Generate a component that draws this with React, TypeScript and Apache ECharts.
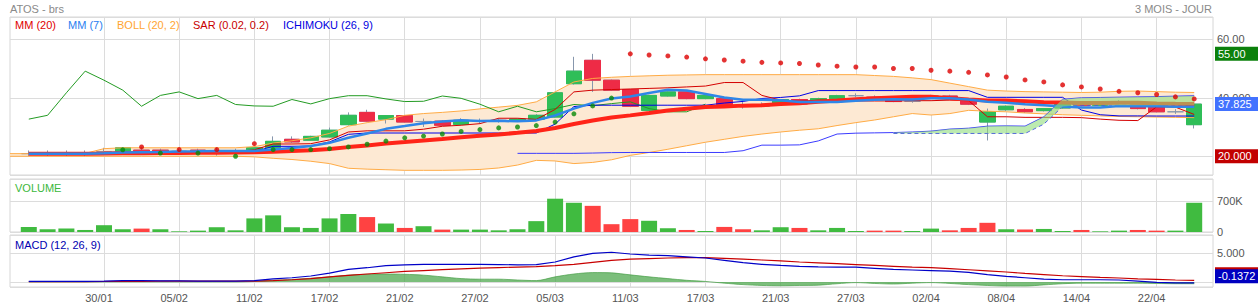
import React, { useEffect, useRef } from 'react';
import * as echarts from 'echarts';

const FONT = '"Liberation Sans", Arial, Helvetica, sans-serif';

// 65 trading-day categories (first and last slots carry no candle)
const dates = [
  '23/01', '24/01', '27/01', '28/01', '29/01', '30/01', '31/01',
  '03/02', '04/02', '05/02', '06/02', '07/02', '10/02', '11/02', '12/02', '13/02', '14/02',
  '17/02', '18/02', '19/02', '20/02', '21/02', '24/02', '25/02', '26/02', '27/02', '28/02',
  '03/03', '04/03', '05/03', '06/03', '07/03', '10/03', '11/03', '12/03', '13/03', '14/03',
  '17/03', '18/03', '19/03', '20/03', '21/03', '24/03', '25/03', '26/03', '27/03', '28/03', '31/03',
  '01/04', '02/04', '03/04', '04/04', '07/04', '08/04', '09/04', '10/04', '11/04',
  '14/04', '15/04', '16/04', '17/04', '22/04', '23/04', '24/04', '25/04',
];

const opens = [null,
  20.9, 20.9, 20.9, 20.9, 21.6, 21.7, 22.1, 22.1, 21.7, 22.1,
  21.8, 21.7, 21.7, 22.9, 25.8, 25.5, 26.6, 30.8, 35.0, 32.7,
  33.9, 31.9, 32.0, 30.9, 32.0, 32.3, 32.0, 32.7, 33.4, 44.8,
  52.8, 46.0, 42.8, 35.7, 40.6, 42.0, 39.7, 39.7, 37.2, 37.1,
  38.2, 39.4, 39.0, 39.7, 40.7, 40.2, 39.5, 38.8, 40.0, 40.6,
  39.0, 31.7, 35.9, 36.0, 35.6, 36.5, 37.7, 37.4, 38.0, 37.6,
  38.0, 35.2, 30.8, null];
const highs = [null,
  22.0, 22.0, 22.0, 22.0, 22.9, 23.0, 23.2, 22.6, 22.6, 22.6,
  22.9, 22.6, 23.1, 26.8, 26.8, 27.0, 29.8, 35.0, 35.9, 34.1,
  34.0, 32.9, 32.3, 33.0, 32.9, 33.0, 33.0, 34.4, 42.0, 54.0,
  55.0, 46.2, 43.0, 41.0, 42.2, 42.1, 41.0, 40.0, 39.0, 38.4,
  39.6, 39.7, 40.0, 41.0, 41.5, 40.8, 39.8, 39.3, 41.0, 41.0,
  39.4, 36.3, 37.4, 36.5, 36.5, 37.9, 38.1, 38.3, 39.2, 38.0,
  38.6, 36.1, 37.9, null];
const lows = [null,
  20.0, 20.0, 20.0, 20.0, 20.4, 21.5, 21.4, 21.4, 21.2, 21.4,
  20.2, 20.6, 21.5, 22.6, 24.6, 25.3, 26.4, 30.5, 31.8, 31.2,
  31.5, 30.0, 30.4, 30.7, 31.2, 31.5, 31.8, 32.5, 33.2, 44.5,
  42.0, 42.3, 36.8, 35.5, 40.4, 39.5, 39.5, 37.5, 36.3, 36.8,
  38.0, 37.6, 38.8, 39.5, 40.2, 39.4, 38.5, 38.3, 39.8, 39.6,
  37.5, 25.4, 35.5, 34.8, 35.3, 36.3, 37.0, 37.2, 37.8, 36.0,
  35.0, 34.5, 29.5, null];
const closes = [null,
  20.9, 20.9, 20.9, 20.9, 21.6, 22.9, 21.6, 21.6, 21.7, 21.6,
  21.8, 21.7, 22.9, 25.1, 24.9, 26.8, 28.9, 34.0, 32.0, 33.9,
  31.7, 31.9, 30.6, 32.3, 32.0, 32.3, 32.7, 34.0, 41.7, 49.1,
  46.0, 42.6, 37.1, 40.8, 42.0, 39.7, 40.8, 37.7, 37.2, 37.1,
  39.4, 37.9, 39.7, 40.7, 40.7, 39.6, 38.7, 38.8, 40.6, 39.8,
  37.8, 35.2, 37.1, 35.2, 36.3, 37.7, 37.3, 38.0, 38.6, 36.3,
  35.2, 35.2, 37.825, null];

// volume in thousands, and colour flag (1 = green, 0 = red)
const volumesK = [null,
  115, 62, 77, 46, 154, 62, 77, 62, 15, 31,
  108, 38, 308, 377, 108, 92, 308, 408, 338, 192,
  92, 131, 54, 54, 54, 38, 62, 246, 754, 662,
  592, 177, 292, 254, 85, 46, 23, 115, 62, 38,
  108, 92, 38, 92, 23, 31, 31, 23, 77, 38,
  92, 208, 62, 54, 69, 23, 46, 15, 31, 46,
  31, 31, 662, null];
const volumeUp = [0,
  1, 1, 1, 1, 1, 1, 0, 1, 1, 1,
  1, 1, 1, 1, 1, 1, 1, 1, 0, 1,
  0, 1, 0, 1, 1, 1, 1, 1, 1, 1,
  0, 0, 0, 1, 1, 0, 1, 0, 0, 1,
  1, 0, 1, 1, 1, 0, 0, 1, 1, 0,
  0, 0, 1, 0, 1, 1, 0, 1, 1, 0,
  0, 1, 1, 0];

const mm20 = [null,
  20.9, 20.9, 20.9, 20.9, 20.94, 21.04, 21.07, 21.1, 21.15, 21.18,
  21.23, 21.27, 21.37, 21.58, 21.78, 22.07, 22.47, 23.13, 23.68, 24.33,
  24.87, 25.42, 25.91, 26.48, 27.0, 27.47, 28.02, 28.64, 29.64, 31.02,
  32.23, 33.27, 33.98, 34.77, 35.62, 36.27, 36.86, 37.05, 37.31, 37.47,
  37.85, 38.15, 38.61, 39.03, 39.46, 39.83, 40.13, 40.37, 40.31, 39.85,
  39.44, 39.07, 39.07, 38.79, 38.5, 38.4, 38.23, 38.24, 38.31, 38.27,
  38.06, 37.93, 37.83, null];
const mm7 = [null,
  20.9, 20.9, 20.9, 20.9, 21.0, 21.29, 21.39, 21.49, 21.6, 21.7,
  21.83, 21.84, 21.84, 22.34, 22.81, 23.54, 24.59, 26.33, 27.8, 29.37,
  30.31, 31.31, 31.86, 32.34, 32.06, 32.1, 31.93, 32.26, 33.94, 36.3,
  38.26, 39.77, 40.46, 41.61, 42.76, 42.47, 41.29, 40.1, 39.33, 39.33,
  39.13, 38.54, 38.54, 38.53, 38.96, 39.3, 39.53, 39.44, 39.83, 39.84,
  39.43, 38.64, 38.29, 37.79, 37.43, 37.01, 36.66, 36.69, 37.17, 37.06,
  37.06, 36.9, 36.91, null];
const bollUpper = [20.9,
  20.9, 20.9, 20.9, 21.0, 22.6, 22.9, 22.9, 22.9, 22.9, 22.9,
  22.9, 22.9, 23.3, 24.5, 25.3, 26.3, 27.8, 30.3, 31.5, 32.5,
  34.0, 34.6, 35.0, 35.5, 36.2, 36.8, 37.4, 38.6, 42.0, 45.4,
  46.6, 47.0, 47.3, 47.5, 47.7, 47.8, 47.9, 47.9, 47.9, 47.9,
  47.9, 47.9, 47.9, 47.9, 47.9, 47.6, 47.3, 46.8, 46.2, 45.0,
  43.8, 42.6, 42.3, 42.1, 42.0, 41.9, 41.8, 41.9, 42.2, 42.3,
  42.1, 41.9, 41.8, null];
const bollLower = [20.0,
  20.0, 20.0, 20.0, 20.0, 20.0, 20.0, 20.0, 20.0, 20.0, 20.0,
  20.0, 20.0, 19.8, 19.3, 18.9, 18.3, 17.5, 15.9, 15.6, 15.4,
  15.2, 15.2, 15.2, 15.3, 15.5, 16.0, 17.0, 18.6, 18.4, 17.5,
  17.9, 18.8, 20.3, 21.3, 22.4, 23.6, 24.8, 25.8, 26.8, 27.6,
  28.3, 28.9, 29.4, 30.5, 31.5, 32.4, 33.5, 34.6, 34.1, 34.6,
  35.7, 35.4, 35.2, 34.8, 34.5, 34.2, 34.0, 33.8, 33.6, 33.5,
  33.4, 33.3, 33.2, null];
const sar = [null,
  null, null, null, null, null, 22.2, 23.2, 21.1, 22.3, 21.1,
  22.3, 20.0, 24.3, 22.3, 22.3, 22.3, 22.6, 23.2, 24.1, 25.2,
  26.3, 26.9, 27.6, 28.5, 29.1, 29.7, 30.0, 30.5, 31.7, 34.5,
  37.2, 39.9, 55.0, 54.6, 54.3, 53.9, 53.3, 52.9, 52.5, 52.1,
  51.9, 51.7, 51.2, 50.8, 50.5, 50.5, 50.0, 50.0, 49.4, 49.1,
  48.7, 47.8, 47.1, 46.1, 45.4, 44.4, 43.7, 43.0, 42.2, 41.7,
  41.1, 40.3, 39.6, null];
const tenkan = [null,
  21.0, 21.0, 21.0, 21.0, 21.2, 21.5, 21.6, 21.6, 21.6, 21.6,
  21.6, 21.6, 22.2, 24.2, 24.2, 24.3, 25.6, 28.3, 28.7, 28.7,
  28.7, 29.25, 30.25, 30.6, 31.15, 33.0, 33.0, 32.6, 36.0, 42.0,
  42.6, 42.8, 43.0, 43.2, 43.4, 43.7, 44.0, 45.2, 45.2, 40.8,
  39.2, 38.8, 39.2, 39.2, 38.9, 38.9, 38.9, 39.0, 39.0, 39.2,
  39.0, 33.5, 33.5, 33.3, 33.3, 33.3, 33.2, 32.7, 32.3, 32.2,
  36.9, 36.8, 34.3, null];
const kijun = [null,
  21.0, 21.0, 21.0, 21.0, 21.0, 21.0, 21.0, 21.0, 21.0, 21.0,
  21.0, 21.0, 21.6, 23.4, 23.4, 23.5, 24.9, 27.5, 27.95, 27.95,
  27.95, 27.95, 27.95, 27.95, 27.95, 27.95, 27.95, 27.95, 31.0, 37.0,
  37.45, 37.45, 37.45, 37.45, 37.45, 37.45, 37.45, 38.2, 38.75, 39.75,
  40.1, 40.65, 42.45, 42.45, 42.45, 42.45, 42.45, 42.45, 42.45, 42.45,
  42.45, 40.15, 40.15, 40.15, 40.15, 40.15, 35.8, 34.2, 33.8, 33.8,
  33.75, 33.75, 33.75, null];
const senkouA = [null,
  null, null, null, null, null, null, null, null, null, null,
  null, null, null, null, null, null, null, null, null, null,
  null, null, null, null, null, null, 21.0, 21.0, 21.0, 21.0,
  21.1, 21.25, 21.3, 21.3, 21.3, 21.3, 21.3, 21.3, 21.9, 23.8,
  23.8, 23.9, 25.25, 27.6, 27.9, 28.0, 28.1, 28.3, 28.6, 29.3,
  29.6, 30.3, 30.4, 30.3, 33.5, 39.5, 40.0, 40.1, 40.2, 40.3,
  40.4, 40.55, 40.7, null];
const senkouB = [null,
  null, null, null, null, null, null, null, null, null, null,
  null, null, null, null, null, null, null, null, null, null,
  null, null, null, null, null, null, null, null, null, null,
  null, null, null, null, null, null, null, null, null, null,
  null, null, null, null, null, null, 27.8, 27.8, 27.8, 27.8,
  27.8, 27.8, 27.8, 27.8, 31.0, 37.0, 37.45, 37.45, 37.45, 37.45,
  37.45, 37.45, 37.45, null];

const macdLine = [null,
  0.1, 0.1, 0.1, 0.1, 0.15, 0.25, 0.25, 0.2, 0.2, 0.15,
  0.15, 0.15, 0.25, 0.55, 0.75, 1.05, 1.55, 2.2, 2.5, 2.85,
  3.0, 3.1, 3.1, 3.1, 3.1, 3.05, 3.0, 3.05, 3.5, 4.4,
  5.0, 5.2, 4.9, 4.7, 4.6, 4.4, 4.2, 3.8, 3.4, 3.1,
  2.9, 2.75, 2.65, 2.6, 2.6, 2.4, 2.2, 2.1, 2.0, 1.9,
  1.7, 1.3, 1.0, 0.75, 0.5, 0.4, 0.4, 0.4, 0.35, 0.15,
  -0.05, -0.15, -0.1372, null];
const signalLine = [null,
  0.08, 0.08, 0.08, 0.08, 0.09, 0.11, 0.13, 0.14, 0.15, 0.15,
  0.15, 0.15, 0.16, 0.25, 0.4, 0.6, 0.9, 1.15, 1.4, 1.62,
  1.85, 2.0, 2.15, 2.3, 2.42, 2.52, 2.62, 2.7, 2.85, 3.1,
  3.45, 3.8, 4.0, 4.1, 4.2, 4.25, 4.25, 4.15, 4.0, 3.85,
  3.7, 3.5, 3.35, 3.2, 3.05, 2.9, 2.75, 2.6, 2.5, 2.35,
  2.15, 1.95, 1.75, 1.5, 1.3, 1.1, 0.95, 0.8, 0.7, 0.55,
  0.45, 0.35, 0.3, null];
const macdHist = [null,
  0.02, 0.02, 0.02, 0.02, 0.02, 0.02, 0.02, 0.02, 0.02, 0.02,
  0.02, 0.02, 0.1, 0.3, 0.45, 0.65, 0.9, 1.2, 1.35, 1.4,
  1.35, 1.2, 0.9, 0.6, 0.5, 0.5, 0.35, 0.25, 0.9, 1.4,
  1.65, 1.6, 1.25, 0.9, 0.6, 0.3, 0.1, -0.2, -0.45, -0.6,
  -0.65, -0.6, -0.55, -0.3, -0.1, -0.25, -0.35, -0.2, -0.1, -0.25,
  -0.45, -0.6, -0.7, -0.7, -0.5, -0.3, -0.2, -0.2, -0.2, -0.2,
  -0.25, -0.3, -0.3, null];

const legendItems = [
  { text: 'MM (20)', color: '#e00000' },
  { text: 'MM (7)', color: '#2a80f0' },
  { text: 'BOLL (20, 2)', color: '#ffa531' },
  { text: 'SAR (0.02, 0.2)', color: '#c80000' },
  { text: 'ICHIMOKU (26, 9)', color: '#0000e0' },
];
const legendX = [15, 68, 117, 193, 283];

const D = (arr: (number | null)[]) => arr.map((v) => (v == null ? '-' : v));
const isGridIdx = (i: number) => i >= 5 && i % 4 === 1;

const GREEN = '#2fbe58';
const RED = '#ee2b46';
const GRID_C = '#dcdcdc';
const HIDDEN_LINE = { color: 'rgba(0,0,0,0)', width: 0, opacity: 1 };

export default function App() {
  const ref = useRef<HTMLDivElement>(null);
  useEffect(() => {
    if (!ref.current) return;
    const chart = echarts.init(ref.current, undefined, { renderer: 'svg' });

    const candleAll = dates.map((_, i) =>
      opens[i] == null ? ['-', '-', '-', '-'] : [opens[i], closes[i], lows[i], highs[i]]
    );
    const candleBody = dates.map((_, i) => {
      const o = opens[i];
      const c = closes[i];
      if (o == null || c == null || o === c) return ['-', '-', '-', '-'];
      return [o, c, Math.min(o, c), Math.max(o, c)];
    });
    const chikou = dates.map((_, i) =>
      i >= 1 && i + 26 < closes.length && closes[i + 26] != null ? (closes[i + 26] as number) : '-'
    );
    const bollBase = D(bollLower);
    const bollDiff = dates.map((_, i) =>
      bollUpper[i] != null && bollLower[i] != null ? (bollUpper[i] as number) - (bollLower[i] as number) : '-'
    );
    const cloudBase = dates.map((_, i) => (senkouA[i] != null && senkouB[i] != null ? senkouB[i] : '-'));
    const cloudDiff = dates.map((_, i) =>
      senkouA[i] != null && senkouB[i] != null ? (senkouA[i] as number) - (senkouB[i] as number) : '-'
    );
    const sarData = sar.map((v, i) =>
      v == null ? '-' : { value: v, itemStyle: { color: v > (closes[i] as number) ? '#dd0000' : '#078a07' } }
    );
    const volData = volumesK.map((v, i) =>
      v == null ? '-' : { value: v * 1000, itemStyle: { color: volumeUp[i] ? '#40bb40' : '#ff4242' } }
    );

    const hiVals = highs.filter((v) => v != null) as number[];
    const loVals = lows.filter((v) => v != null) as number[];
    const maxHigh = Math.max(...hiVals);
    const minLow = Math.min(...loVals);
    const lastClose = closes[63] as number;
    const lastMacd = macdLine[63] as number;
    const lastSignal = signalLine[63] as number;

    const boxLabel = {
      show: true,
      position: 'end',
      distance: 2,
      color: '#fff',
      fontSize: 11,
      fontFamily: FONT,
      width: 40,
      lineHeight: 12,
      padding: [1, 0, 1, 3],
    };

    const xAxisBase = (g: number) => ({
      type: 'category',
      gridIndex: g,
      data: dates,
      boundaryGap: false,
      axisLine: { show: false },
      axisTick: { show: false },
      axisLabel: {
        show: g === 2,
        interval: (i: number) => isGridIdx(i),
        color: '#555',
        fontSize: 11,
        fontFamily: FONT,
        margin: 5,
        padding: [0, 10, 0, 0],
      },
      splitLine: { show: true, interval: (i: number) => isGridIdx(i), lineStyle: { color: GRID_C, width: 1 } },
    });

    const lineS = (name: string, data: any[], color: string, width: number, z = 3, extra: any = {}) => ({
      name,
      type: 'line',
      xAxisIndex: 0,
      yAxisIndex: 0,
      data,
      symbol: 'none',
      silent: true,
      z,
      lineStyle: { color, width },
      ...extra,
    });

    const gridBase = { left: 10, right: 45, show: true, borderColor: '#d6d6d6', borderWidth: 1, containLabel: false, outerBoundsMode: 'none' };

    const option: any = {
      animation: false,
      backgroundColor: '#fff',
      textStyle: { fontFamily: FONT },
      grid: [
        { ...gridBase, top: 17, height: 158 },
        { ...gridBase, top: 179, height: 53 },
        { ...gridBase, top: 235, height: 52 },
      ],
      xAxis: [xAxisBase(0), xAxisBase(1), xAxisBase(2)],
      yAxis: [
        {
          type: 'value', gridIndex: 0, position: 'right', min: 13.6, max: 67.6, splitNumber: 3,
          axisLine: { show: false }, axisTick: { show: false },
          axisLabel: {
            showMinLabel: false, showMaxLabel: false, color: '#555', fontSize: 11, fontFamily: FONT, margin: 4,
            padding: [0, 0, 4, 0],
            formatter: (v: number) => (v === 60 ? '60.00' : v.toFixed(3)),
          },
          splitLine: { lineStyle: { color: GRID_C } },
        },
        {
          type: 'value', gridIndex: 1, position: 'right', min: 0, max: 1200000, interval: 700000,
          axisLine: { show: false }, axisTick: { show: false },
          axisLabel: {
            showMaxLabel: false, color: '#555', fontSize: 11, fontFamily: FONT, margin: 4,
            padding: [0, 0, 5, 0],
            formatter: (v: number) => (v === 0 ? '0' : v / 1000 + 'K'),
          },
          splitLine: { lineStyle: { color: GRID_C } },
        },
        {
          type: 'value', gridIndex: 2, position: 'right', min: -0.87, max: 8.22, splitNumber: 2,
          axisLine: { show: false }, axisTick: { show: false },
          axisLabel: {
            showMinLabel: false, showMaxLabel: false, color: '#555', fontSize: 11, fontFamily: FONT, margin: 4,
            padding: [0, 0, 5, 0],
            formatter: (v: number) => (v === 0 ? '' : v.toFixed(3)),
          },
          splitLine: { lineStyle: { color: GRID_C } },
        },
      ],
      series: [
        lineS('bollBase', bollBase, 'transparent', 0, 1, { stack: 'boll', lineStyle: { opacity: 0 } }),
        lineS('bollBand', bollDiff, 'transparent', 0, 1, {
          stack: 'boll', lineStyle: { opacity: 0 }, areaStyle: { color: '#fde9d3', opacity: 1 },
        }),
        {
          name: 'wick', type: 'candlestick', xAxisIndex: 0, yAxisIndex: 0, data: candleAll, barWidth: 16, z: 2, silent: true,
          itemStyle: { color: '#8797ad', color0: '#8797ad', borderColor: '#8797ad', borderColor0: '#8797ad', borderWidth: 1 },
        },
        {
          name: 'body', type: 'candlestick', xAxisIndex: 0, yAxisIndex: 0, data: candleBody, barWidth: 16, z: 2, silent: true,
          itemStyle: { color: GREEN, color0: RED, borderColor: GREEN, borderColor0: RED, borderWidth: 1 },
        },
        lineS('bollUpper', D(bollUpper), '#ffab45', 1),
        lineS('bollLower', D(bollLower), '#ffab45', 1),
        lineS('chikou', chikou, '#239b23', 1),
        lineS('kijun', D(kijun), '#0000e6', 1),
        lineS('tenkan', D(tenkan), '#d40000', 1),
        lineS('senkouA', D(senkouA), '#3b3bff', 1),
        lineS('senkouB', D(senkouB), '#3b3bff', 1, 3, { lineStyle: { color: '#3b3bff', width: 1, type: [4, 3] } }),
        lineS('mm20', D(mm20), '#ff2418', 4),
        lineS('mm7', D(mm7), '#2f86e8', 2.5),
        lineS('cloudBase', cloudBase, 'transparent', 0, 4, { stack: 'cloud', lineStyle: { opacity: 0 } }),
        lineS('cloudBand', cloudDiff, 'transparent', 0, 4, {
          stack: 'cloud', lineStyle: { opacity: 0 }, areaStyle: { color: '#8fdc7c', opacity: 0.6 },
        }),
        {
          name: 'sar', type: 'scatter', xAxisIndex: 0, yAxisIndex: 0, data: sarData, symbolSize: 5, z: 5, silent: true,
        },
        {
          name: 'priceLabels', type: 'line', xAxisIndex: 0, yAxisIndex: 0, data: D(closes), symbol: 'none', silent: true, z: 6,
          lineStyle: HIDDEN_LINE,
          markLine: {
            silent: true, symbol: 'none', lineStyle: HIDDEN_LINE, label: boxLabel,
            data: [
              { yAxis: maxHigh, lineStyle: HIDDEN_LINE, label: { ...boxLabel, formatter: maxHigh.toFixed(2), backgroundColor: '#0b800b' } },
              { yAxis: minLow, lineStyle: HIDDEN_LINE, label: { ...boxLabel, formatter: minLow.toFixed(3), backgroundColor: '#c20000' } },
              { yAxis: lastClose, lineStyle: HIDDEN_LINE, label: { ...boxLabel, formatter: lastClose.toFixed(3), backgroundColor: '#4272ff' } },
            ],
          },
        },
        {
          name: 'volume', type: 'bar', xAxisIndex: 1, yAxisIndex: 1, data: volData, barWidth: 16, silent: true,
        },
        {
          name: 'hist', type: 'line', xAxisIndex: 2, yAxisIndex: 2, data: D(macdHist), symbol: 'none', silent: true, smooth: 0.3,
          lineStyle: { color: '#4a9f4a', width: 1, opacity: 0.7 }, areaStyle: { color: '#4fa84f', opacity: 0.75 },
        },
        {
          name: 'signal', type: 'line', xAxisIndex: 2, yAxisIndex: 2, data: D(signalLine), symbol: 'none', silent: true,
          lineStyle: { color: '#c80000', width: 1.2 },
        },
        {
          name: 'macd', type: 'line', xAxisIndex: 2, yAxisIndex: 2, data: D(macdLine), symbol: 'none', silent: true,
          lineStyle: { color: '#0000c8', width: 1.2 },
          markLine: {
            silent: true, symbol: 'none', lineStyle: HIDDEN_LINE,
            data: [
              { yAxis: lastSignal, lineStyle: HIDDEN_LINE, label: { ...boxLabel, offset: [0, -6], formatter: lastSignal.toFixed(4), backgroundColor: '#c00000' } },
              { yAxis: lastMacd, lineStyle: HIDDEN_LINE, label: { ...boxLabel, offset: [0, -6.5], formatter: lastMacd.toFixed(4), backgroundColor: '#0000c0' } },
            ],
          },
        },
      ],
      graphic: [
        { type: 'text', x: 10, y: 9, style: { text: 'ATOS - brs', fill: '#8a8a8a', font: `11px ${FONT}`, verticalAlign: 'middle' } },
        { type: 'text', x: 1212, y: 9, style: { text: '3 MOIS - JOUR', fill: '#8a8a8a', font: `11px ${FONT}`, align: 'right', verticalAlign: 'middle' } },
        ...legendItems.map((it, k) => ({
          type: 'text', x: legendX[k], y: 25, z: 10,
          style: { text: it.text, fill: it.color, font: `11px ${FONT}`, verticalAlign: 'middle' },
        })),
        { type: 'text', x: 15, y: 188, style: { text: 'VOLUME', fill: '#3cb83c', font: `11px ${FONT}`, verticalAlign: 'middle' } },
        { type: 'text', x: 15, y: 244.5, style: { text: 'MACD (12, 26, 9)', fill: '#0000b0', font: `11px ${FONT}`, verticalAlign: 'middle' } },
      ],
    };

    chart.setOption(option);
    return () => chart.dispose();
  }, []);

  return <div ref={ref} style={{ position: 'fixed', left: 0, top: 0, width: 1258, height: 308, background: '#fff' }} />;
}
